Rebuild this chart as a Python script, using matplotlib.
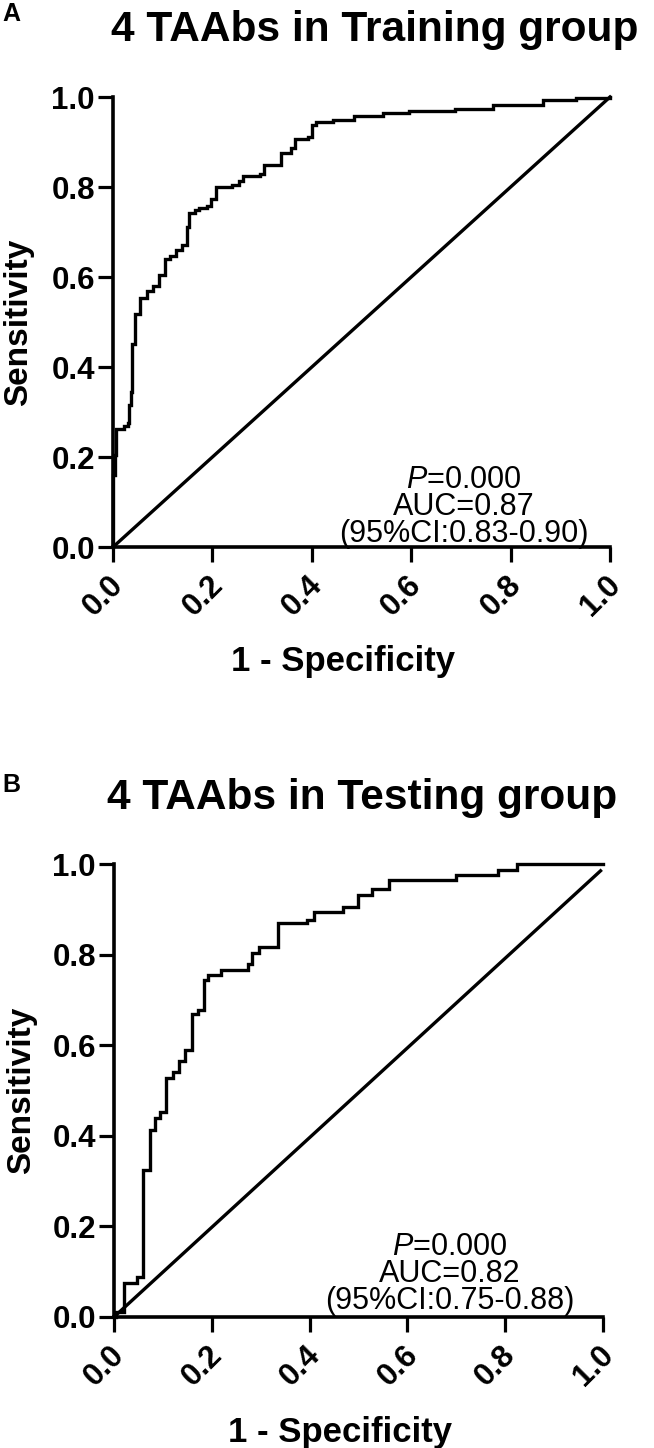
import matplotlib
matplotlib.use("Agg")
import matplotlib.pyplot as plt
import matplotlib.transforms as mtransforms

plt.rcParams['font.family'] = ['Liberation Sans', 'DejaVu Sans']
plt.rcParams['mathtext.fontset'] = 'custom'
plt.rcParams['mathtext.rm'] = 'Liberation Sans'
plt.rcParams['mathtext.it'] = 'Liberation Sans:italic'

# ROC curve corners (1 - specificity, sensitivity)
train_fpr = [0.000, 0.000, 0.004, 0.006, 0.022, 0.031, 0.033, 0.036, 0.038, 0.045,
             0.055, 0.068, 0.080, 0.093, 0.104, 0.114, 0.127, 0.139, 0.148, 0.152,
             0.165, 0.173, 0.190, 0.198, 0.207, 0.240, 0.253, 0.262, 0.295, 0.304,
             0.338, 0.359, 0.367, 0.392, 0.400, 0.409, 0.443, 0.485, 0.544, 0.595,
             0.688, 0.764, 0.865, 0.932, 1.000]
train_tpr = [0.000, 0.160, 0.205, 0.262, 0.268, 0.275, 0.315, 0.345, 0.452, 0.518,
             0.554, 0.569, 0.579, 0.605, 0.640, 0.646, 0.661, 0.671, 0.712, 0.743,
             0.748, 0.753, 0.758, 0.773, 0.799, 0.804, 0.814, 0.824, 0.829, 0.850,
             0.875, 0.886, 0.906, 0.911, 0.937, 0.945, 0.949, 0.957, 0.964, 0.969,
             0.974, 0.983, 0.993, 0.998, 1.000]

test_fpr = [0.000, 0.005, 0.021, 0.047, 0.060, 0.073, 0.083, 0.094, 0.107, 0.120,
            0.133, 0.146, 0.159, 0.172, 0.185, 0.193, 0.219, 0.275, 0.283, 0.296,
            0.335, 0.395, 0.408, 0.468, 0.498, 0.528, 0.562, 0.700, 0.785, 0.824,
            1.000]
test_tpr = [0.000, 0.010, 0.075, 0.088, 0.325, 0.412, 0.440, 0.453, 0.527, 0.540,
            0.565, 0.590, 0.668, 0.678, 0.744, 0.755, 0.765, 0.780, 0.804, 0.816,
            0.870, 0.877, 0.893, 0.905, 0.932, 0.944, 0.964, 0.976, 0.987, 1.000,
            1.000]

ticks = [0.0, 0.2, 0.4, 0.6, 0.8, 1.0]
tick_labels = ['0.0', '0.2', '0.4', '0.6', '0.8', '1.0']

train_stats = [r'$\it{P}$=0.000', 'AUC=0.87', '(95%CI:0.83-0.90)']
test_stats = [r'$\it{P}$=0.000', 'AUC=0.82', '(95%CI:0.75-0.88)']

fig = plt.figure(figsize=(6.54, 14.48), dpi=100)


def panel(rect, fpr, tpr, diag_end, title, title_xy, letter, letter_y, stats, stats_xy):
    ax = fig.add_axes(rect)
    ax.plot(fpr, tpr, color='black', lw=2.4, drawstyle='steps-post', clip_on=False,
            solid_joinstyle='miter')
    ax.plot([0, diag_end[0]], [0, diag_end[1]], color='black', lw=2.4, clip_on=False)
    ax.set_xlim(0, 1)
    ax.set_ylim(0, 1)
    for s in ['top', 'right']:
        ax.spines[s].set_visible(False)
    for s in ['left', 'bottom']:
        ax.spines[s].set_linewidth(2.6)
    ax.set_xticks(ticks)
    ax.set_yticks(ticks)
    ax.set_xticklabels(tick_labels, rotation=45, ha='right', va='center',
                       rotation_mode='anchor', fontsize=22.5, fontweight='bold')
    ax.set_yticklabels(tick_labels, fontsize=22.5, fontweight='bold')
    ax.tick_params(direction='out', length=11, width=2.3)
    ax.tick_params(axis='x', pad=13)
    ax.tick_params(axis='y', pad=2)
    offset = mtransforms.ScaledTranslation(6 / 100, 0, fig.dpi_scale_trans)
    for lab in ax.get_xticklabels():
        lab.set_transform(lab.get_transform() + offset)

    ax.set_xlabel('1 - Specificity', fontsize=25, fontweight='bold')
    ax.xaxis.set_label_coords(0.463, -0.255)
    ax.xaxis.label.set_va('center')
    ax.set_ylabel('Sensitivity', fontsize=24, fontweight='bold')
    ax.yaxis.set_label_coords(-0.19, 0.5)
    ax.yaxis.label.set_va('center')

    # three stacked lines, set tight as in the original
    ax.text(stats_xy[0], stats_xy[1], '\n'.join(stats), fontsize=22, ha='center',
            va='bottom', multialignment='center', linespacing=0.86)

    fig.text(title_xy[0], title_xy[1], title, fontsize=30.5, fontweight='bold',
             ha='center', va='center')
    fig.text(0.003, letter_y, letter, fontsize=18, fontweight='bold', ha='left', va='center')
    return ax


panel([0.1728, 0.6222, 0.7599, 0.3108], train_fpr, train_tpr, (1.0, 1.0),
      '4 TAAbs in Training group', (375 / 654, 1 - 30 / 1448), 'A', 1 - 14 / 1448,
      train_stats, (0.706, -0.004))

panel([0.1743, 0.0905, 0.7477, 0.3128], test_fpr, test_tpr, (0.995, 0.985),
      '4 TAAbs in Testing group', (362 / 654, 1 - 798 / 1448), 'B', 1 - 785 / 1448,
      test_stats, (0.686, 0.002))

fig.savefig('out.png', dpi=100)
